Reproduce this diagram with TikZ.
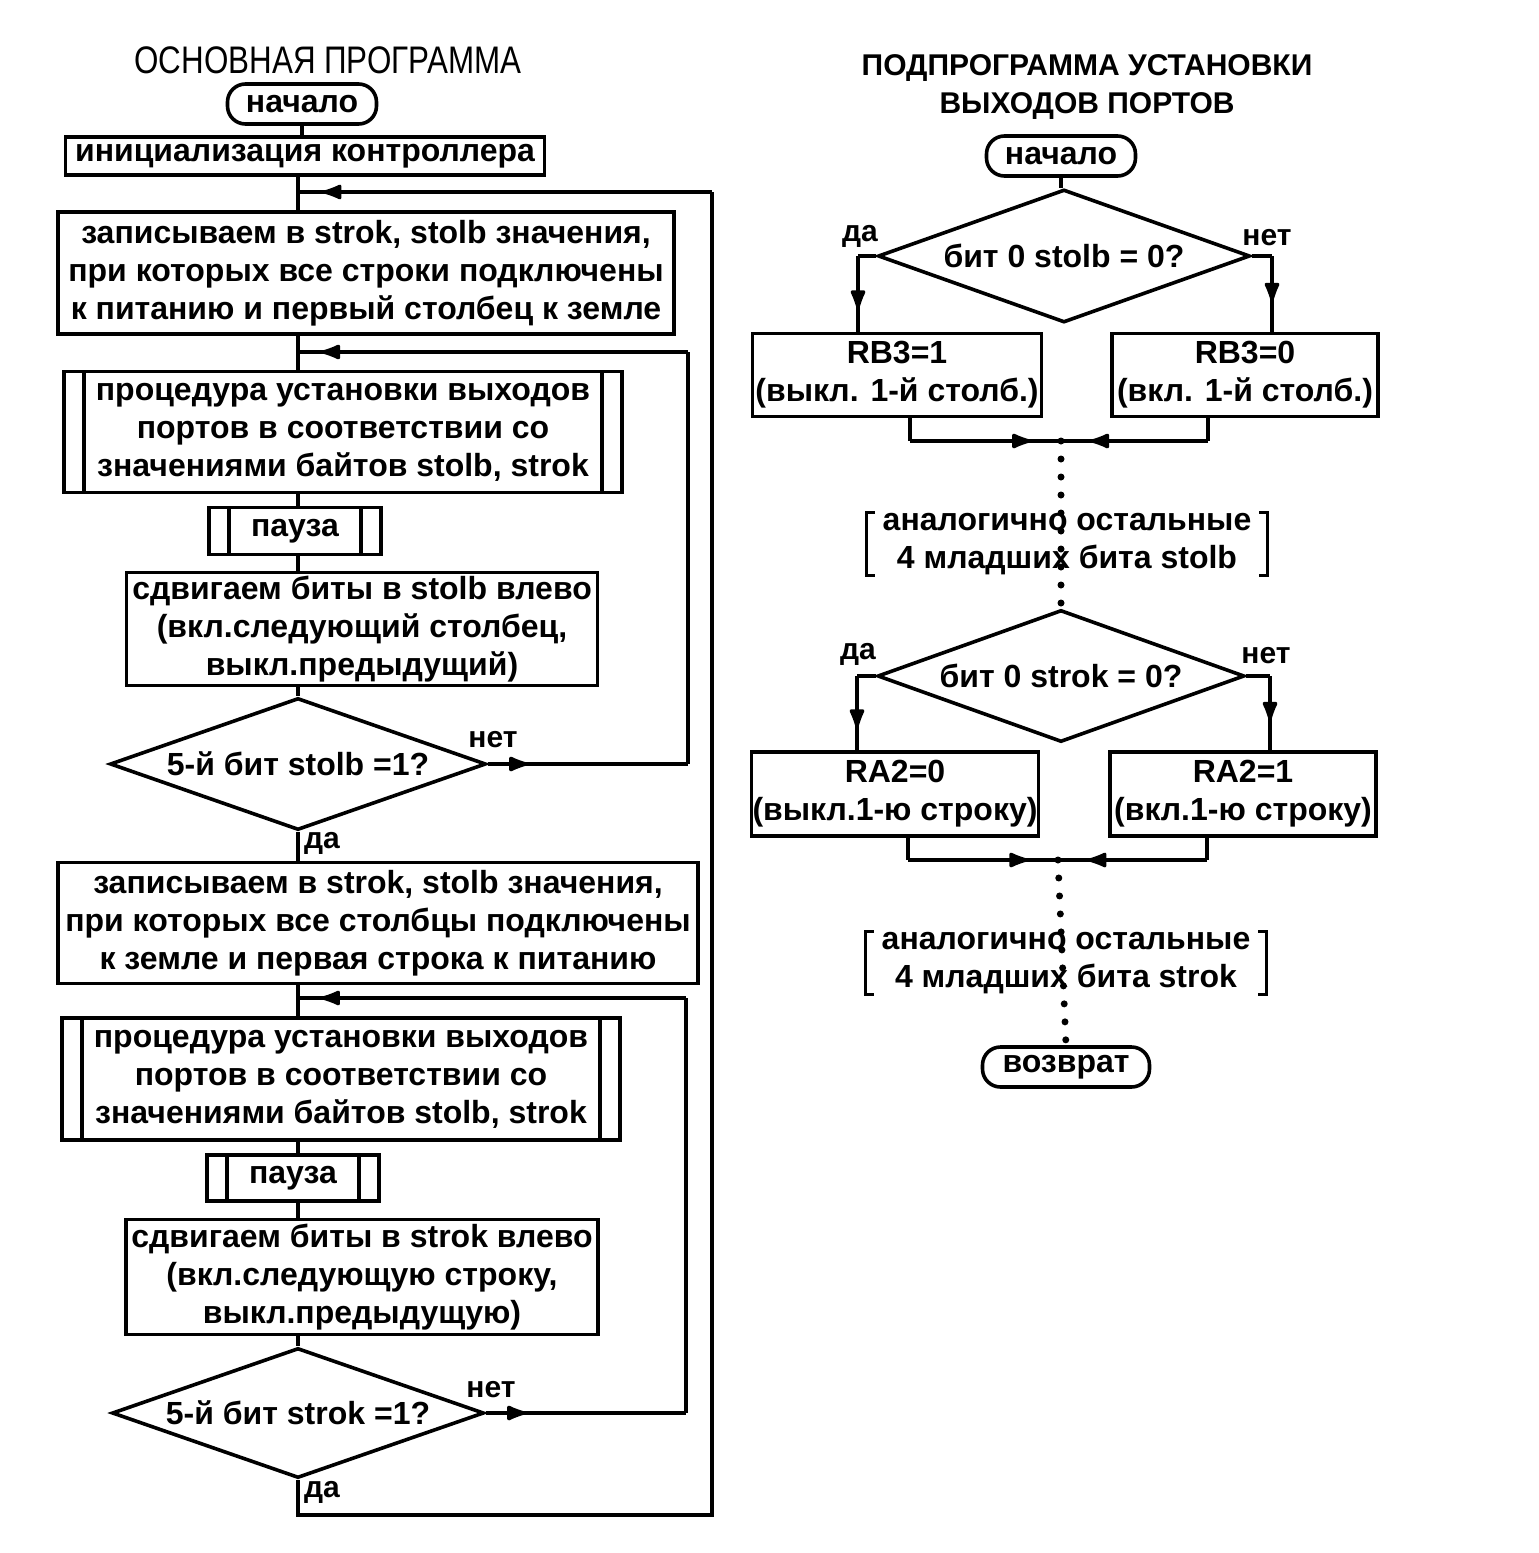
\documentclass[tikz,border=0pt]{standalone}
\usepackage{fontspec}
\setmainfont{Liberation Sans}
\usetikzlibrary{shapes.geometric, arrows.meta, decorations.markings}
\tikzset{>={Latex[length=12pt,width=8.5pt,round]}}
\tikzset{
  every node/.style={font=\bfseries\fontsize{16}{19}\selectfont, align=center, inner sep=0pt},
  blok/.style 2 args={draw, line width=1.8pt, minimum width=#1, minimum height=#2},
  proc/.style 2 args={blok={#1}{#2}, path picture={
      \draw[line width=1.8pt] ([xshift=10pt]path picture bounding box.north west) -- ([xshift=10pt]path picture bounding box.south west)
        ([xshift=-10pt]path picture bounding box.north east) -- ([xshift=-10pt]path picture bounding box.south east);}},
  term/.style={draw, line width=1.8pt, rounded corners=9pt, minimum width=74.5pt, minimum height=20pt},
  romb/.style 2 args={draw, diamond, line width=1.8pt, aspect=2.8, minimum width=#1, minimum height=#2},
  brk/.style={minimum width=200pt, minimum height=31pt},
  lbl/.style={font=\bfseries\fontsize{15}{18}\selectfont},
  conn/.style={line width=1.6pt},
  dots/.style={line width=3.5pt, line cap=round, dash pattern=on 0pt off 9pt},
  mid/.style={decoration={markings, mark=at position #1 with {\arrow{>}}}, postaction={decorate}}
}
\begin{document}
\begin{tikzpicture}[x=0.5pt, y=-0.5pt]
\path[fill=white, use as bounding box] (0,0) rectangle (1538,1553);
% main program
\node[font=\fontsize{16}{19}\selectfont] (t1) at (328,60) {\scalebox{0.98}[1.2]{ОСНОВНАЯ ПРОГРАММА}};
\node[term] (n1) at (302,104) {начало};
\node[blok={239.5pt}{19pt}] (init) at (305,156) {инициализация контроллера};
\node[blok={308pt}{61pt}] (b1) at (366,273) {записываем в strok, stolb значения,\\при которых все строки подключены\\к питанию и первый столбец к земле};
\node[proc={279pt}{60.5pt}] (p1) at (343,432) {процедура установки выходов\\портов в соответствии со\\значениями байтов stolb, strok};
\node[proc={86pt}{23.5pt}] (pz1) at (295,531) {пауза};
\node[blok={235.5pt}{56.5pt}] (s1) at (362,629) {сдвигаем биты в stolb влево\\(вкл.следующий столбец,\\выкл.предыдущий)};
\node[romb={188pt}{66pt}] (d1) at (298,764) {5-й бит stolb =1?};
\node[lbl] at (493,740) {нет};
\node[lbl] at (322,843) {да};
\node[blok={320pt}{60.5pt}] (b2) at (378,923) {записываем в strok, stolb значения,\\при которых все столбцы подключены\\к земле и первая строка к питанию};
\node[proc={279pt}{61pt}] (p2) at (341,1079) {процедура установки выходов\\портов в соответствии со\\значениями байтов stolb, strok};
\node[proc={86pt}{23pt}] (pz2) at (293,1178) {пауза};
\node[blok={236pt}{57.5pt}] (s2) at (362,1277) {сдвигаем биты в strok влево\\(вкл.следующую строку,\\выкл.предыдущую)};
\node[romb={186pt}{65pt}] (d2) at (298,1413) {5-й бит strok =1?};
\node[lbl] at (491,1390) {нет};
\node[lbl] at (322,1492) {да};
\coordinate (sp) at (298,0);
\coordinate (q1) at (688,764);
\coordinate (q2) at (688,352);
\coordinate (r1) at (686,1413);
\coordinate (r2) at (686,998);
\coordinate (o1) at (298,1515);
\coordinate (o2) at (712,1515);
\coordinate (o3) at (712,192);
\draw[conn] (n1) -- (n1 |- init.north);
\foreach \a/\b in {init/b1, b1/p1, p1/pz1, pz1/s1, s1/d1, d1/b2, b2/p2, p2/pz2, pz2/s2, s2/d2}
  \draw[conn] (\a.south -| sp) -- (\b.north -| sp);
\draw[conn, mid=0.2] (d1.east) -- (q1);
\draw[conn] (q1) -- (q2);
\draw[conn, mid=0.94] (q2) -- (q2 -| sp);
\draw[conn, mid=0.2] (d2.east) -- (r1);
\draw[conn] (r1) -- (r2);
\draw[conn, mid=0.94] (r2) -- (r2 -| sp);
\draw[conn] (d2.south) -- (o1) -- (o2) -- (o3);
\draw[conn, mid=0.94] (o3) -- (o3 -| sp);
% subroutine
\node[font=\bfseries\fontsize{15}{19}\selectfont] (t2) at (1087,87) {ПОДПРОГРАММА УСТАНОВКИ\\ВЫХОДОВ ПОРТОВ};
\node[term] (n2) at (1061,156) {начало};
\node[romb={186pt}{66.5pt}] (d3) at (1064,256) {бит 0 stolb = 0?};
\node[lbl] at (860,236) {да};
\node[lbl] at (1267,238) {нет};
\node[blok={144.5pt}{41.5pt}] (rb1) at (897,375) {RB3=1\\(выкл. 1-й столб.)};
\node[blok={133pt}{41.5pt}] (rb0) at (1245,375) {RB3=0\\(вкл. 1-й столб.)};
\node[brk] (br1) at (1067,544) {аналогично остальные\\4 младших бита stolb};
\node[romb={183.5pt}{66pt}] (d4) at (1061,676) {бит 0 strok = 0?};
\node[lbl] at (858,654) {да};
\node[lbl] at (1266,656) {нет};
\node[blok={143.5pt}{42pt}] (ra0) at (895,794) {RA2=0\\(выкл.1-ю строку)};
\node[blok={133pt}{42pt}] (ra1) at (1243,794) {RA2=1\\(вкл.1-ю строку)};
\node[brk] (br2) at (1066,963) {аналогично остальные\\4 младших бита strok};
\node[term, minimum width=83.5pt] (ret) at (1066,1067) {возврат};
\coordinate (c3l) at (858,256);
\coordinate (c3r) at (1272,256);
\coordinate (j1) at (1061,441);
\coordinate (k1) at (910,441);
\coordinate (k2) at (1208,441);
\coordinate (c4l) at (857,676);
\coordinate (c4r) at (1270,676);
\coordinate (j2) at (1058,860);
\coordinate (k3) at (908,860);
\coordinate (k4) at (1207,860);
\draw[conn] (n2.south) -- (n2.south |- d3.north);
\draw[conn] (d3.west) -- (c3l);
\draw[conn, mid=0.7] (c3l) -- (c3l |- rb1.north);
\draw[conn] (d3.east) -- (c3r);
\draw[conn, mid=0.6] (c3r) -- (c3r |- rb0.north);
\draw[conn] (rb1.south -| k1) -- (k1);
\draw[conn, mid=0.8] (k1) -- (j1);
\draw[conn] (rb0.south -| k2) -- (k2);
\draw[conn, mid=0.8] (k2) -- (j1);
\draw[dots] (j1) -- (d4.north);
\draw[conn] (d4.west) -- (c4l);
\draw[conn, mid=0.7] (c4l) -- (c4l |- ra0.north);
\draw[conn] (d4.east) -- (c4r);
\draw[conn, mid=0.6] (c4r) -- (c4r |- ra1.north);
\draw[conn] (ra0.south -| k3) -- (k3);
\draw[conn, mid=0.8] (k3) -- (j2);
\draw[conn] (ra1.south -| k4) -- (k4);
\draw[conn, mid=0.8] (k4) -- (j2);
\draw[dots] (j2) -- (ret.north);
\foreach \b in {br1, br2}
  \draw[conn] ([xshift=4pt]\b.north west) -- (\b.north west) -- (\b.south west) -- ([xshift=4pt]\b.south west)
    ([xshift=-4pt]\b.north east) -- (\b.north east) -- (\b.south east) -- ([xshift=-4pt]\b.south east);
\end{tikzpicture}
\end{document}
